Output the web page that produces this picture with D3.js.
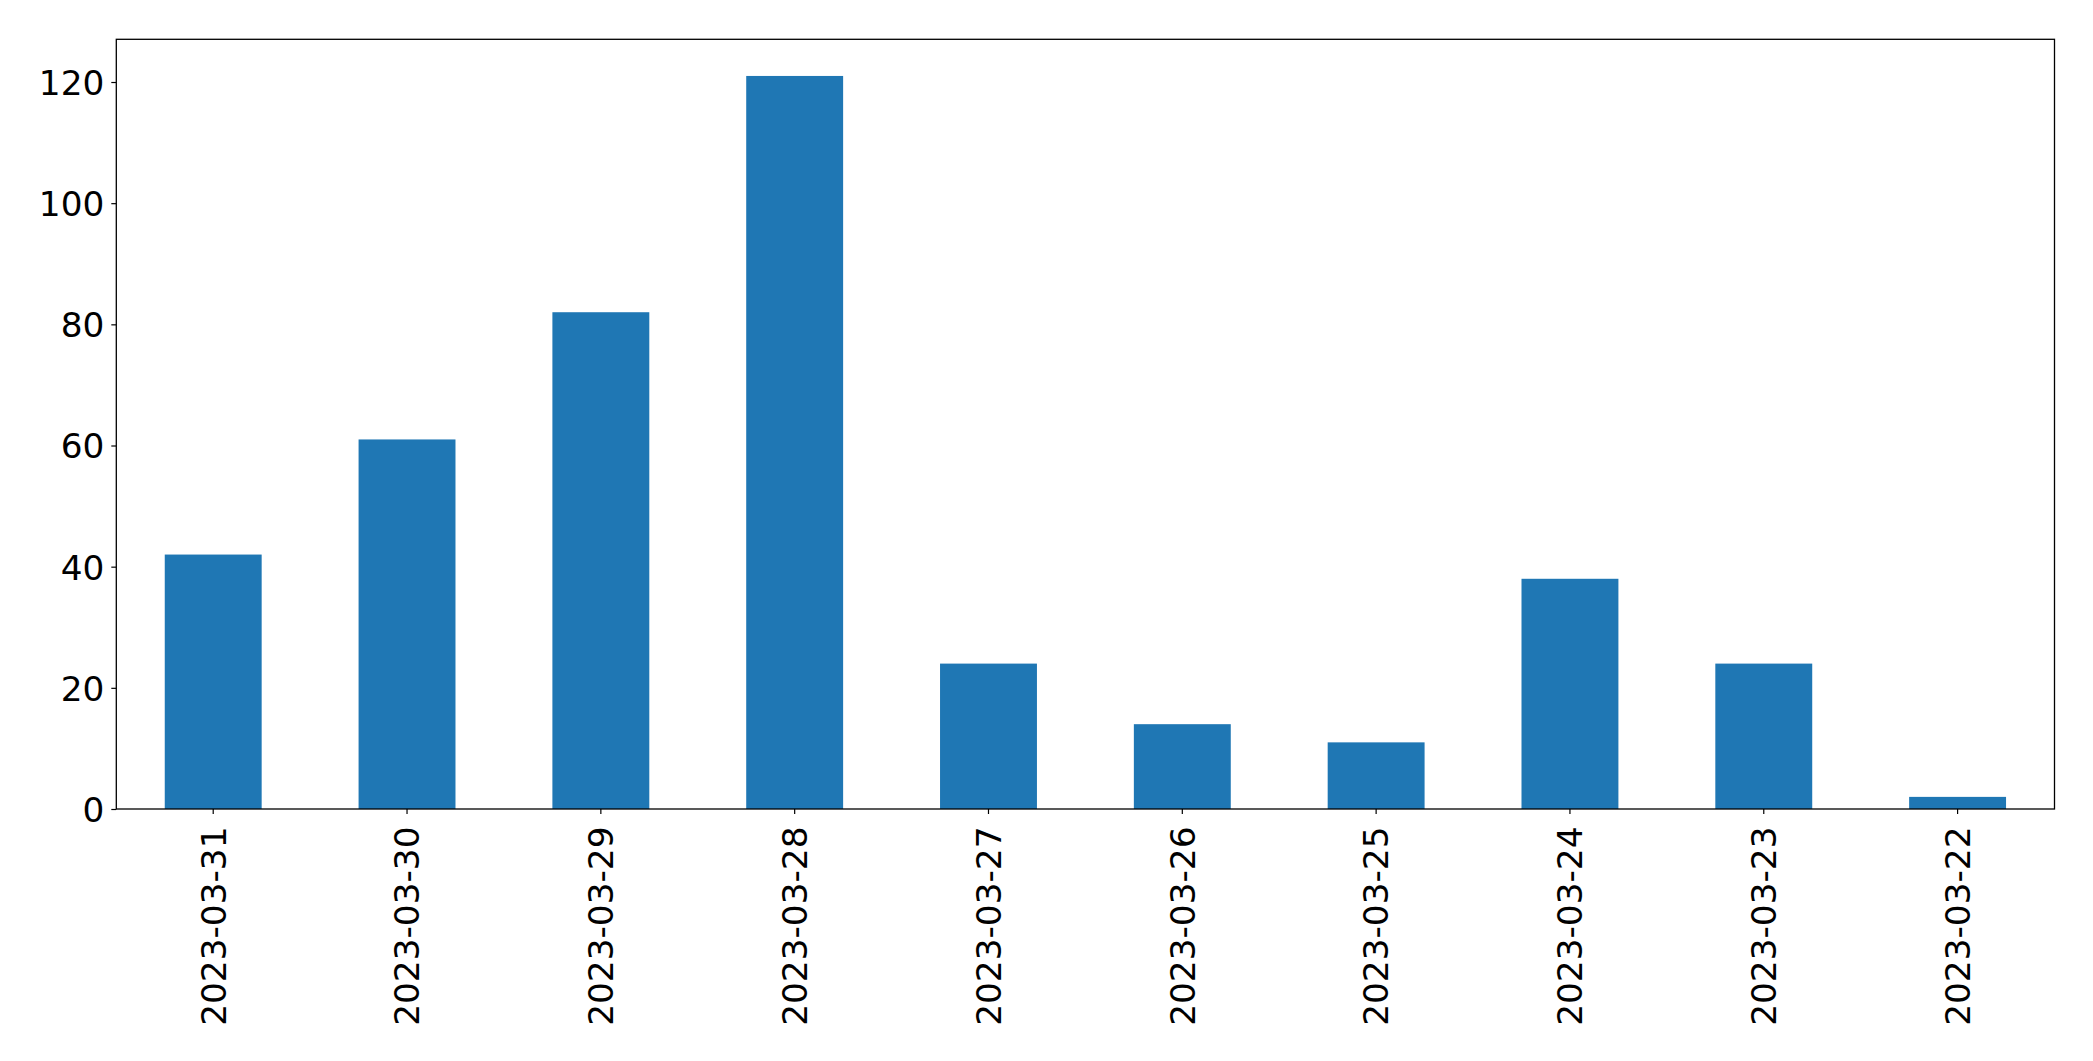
<!DOCTYPE html>
<html>
<head>
<meta charset="utf-8">
<script src="https://cdn.jsdelivr.net/npm/d3@7"></script>
<style>
  html, body { margin: 0; padding: 0; background: #fff; }
  svg { display: block; }
  text { font-family: "DejaVu Sans", sans-serif; fill: #000; }
</style>
</head>
<body>
<svg id="chart" width="2093" height="1061"></svg>
<script>
const categories = ["2023-03-31","2023-03-30","2023-03-29","2023-03-28","2023-03-27","2023-03-26","2023-03-25","2023-03-24","2023-03-23","2023-03-22"];
const values = [42, 61, 82, 121, 24, 14, 11, 38, 24, 2];
const yTicks = [0, 20, 40, 60, 80, 100, 120];

const W = 2093, H = 1061;
const margin = { left: 116.3, right: W - 2054.5, top: 39.3, bottom: H - 809 };
const iw = W - margin.left - margin.right;
const ih = H - margin.top - margin.bottom;
const fontSize = 34.3;

const svg = d3.select("#chart");
const g = svg.append("g").attr("transform", `translate(${margin.left},${margin.top})`);

const x = d3.scaleBand().domain(categories).range([0, iw]).paddingInner(0.5).paddingOuter(0.25);
const y = d3.scaleLinear().domain([0, d3.max(values) * 1.05]).range([ih, 0]);

g.selectAll("rect.bar")
  .data(categories.map((c, i) => ({ c, v: values[i] })))
  .join("rect")
  .attr("class", "bar")
  .attr("x", d => x(d.c))
  .attr("width", x.bandwidth())
  .attr("y", d => y(d.v))
  .attr("height", d => y(0) - y(d.v))
  .attr("fill", "#1f77b4");

// Y axis
const yAxis = g.append("g")
  .call(d3.axisLeft(y).tickValues(yTicks).tickSize(5).tickPadding(7).tickFormat(d3.format("d")));
yAxis.select(".domain").remove();
yAxis.selectAll("text").style("font-size", fontSize + "px").attr("dy", "0.36em");
yAxis.selectAll("line").attr("stroke", "#000").attr("stroke-width", 1.2);

// X axis
const xAxis = g.append("g").attr("transform", `translate(0,${ih})`)
  .call(d3.axisBottom(x).tickSize(5).tickPadding(0));
xAxis.select(".domain").remove();
xAxis.selectAll("line").attr("stroke", "#000").attr("stroke-width", 1.2);
xAxis.selectAll("text")
  .style("font-size", fontSize + "px")
  .attr("text-anchor", "end")
  .attr("transform", "translate(0,17.5) rotate(-90)")
  .attr("x", 0)
  .attr("y", 0)
  .attr("dy", "0.36em");

// Frame
g.append("rect")
  .attr("x", 0).attr("y", 0).attr("width", iw).attr("height", ih)
  .attr("fill", "none").attr("stroke", "#000").attr("stroke-width", 1.3);
</script>
</body>
</html>
